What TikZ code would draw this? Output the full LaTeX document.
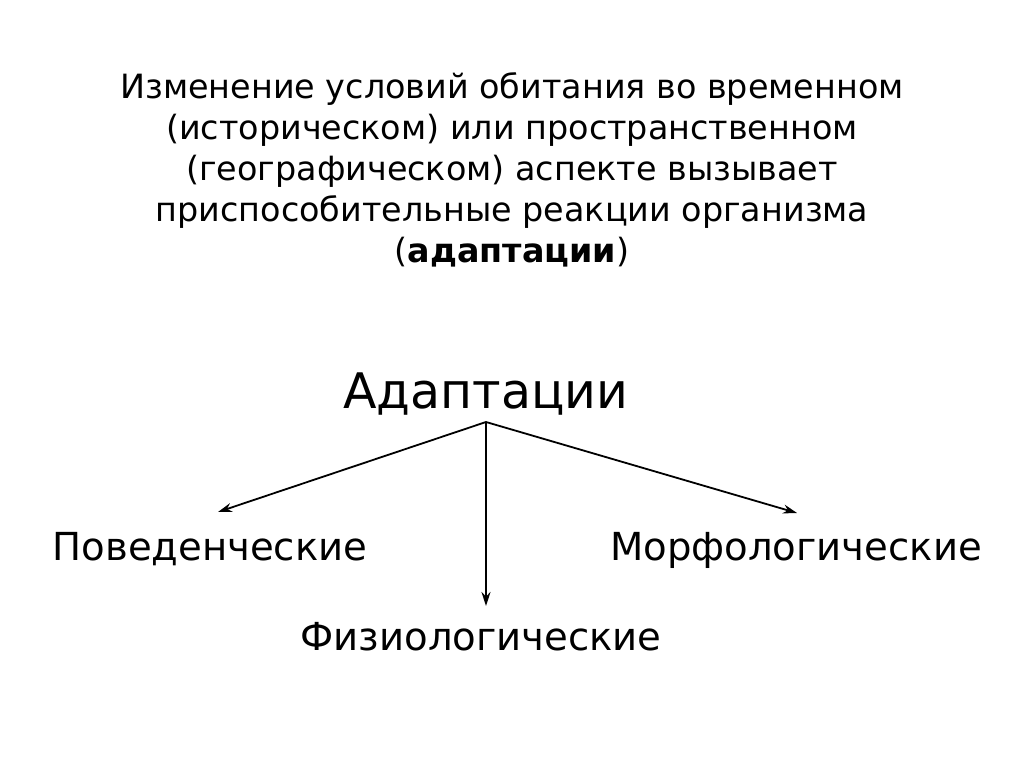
\documentclass[tikz,border=0pt]{standalone}
\usepackage{fontspec}
\setmainfont{DejaVu Sans}
\usetikzlibrary{arrows.meta, positioning}

\begin{document}
\begin{tikzpicture}[x=1pt, y=-1pt,
  lead/.style={font=\fontsize{33.4}{41}\selectfont, align=center, anchor=base, inner sep=0pt},
  kind/.style={font=\fontsize{38.6}{46}\selectfont, anchor=base, inner sep=0pt},
  branch/.style={-{Stealth[length=14pt, width=9pt]}, line width=1.8pt}]
  \useasboundingbox[fill=white] (0,0) rectangle (1024,767);
  % heading
  \node[lead] (intro) at (512,262) {Изменение условий обитания во временном\\
    (историческом) или пространственном\\
    (географическом) аспекте вызывает\\
    приспособительные реакции организма\\
    (\textbf{адаптации})};
  % tree
  \node[kind, font=\fontsize{49}{56}\selectfont] (adapt) at (486,408) {Адаптации};
  \node[kind] (beh) at (210,560) {Поведенческие};
  \node[kind] (morph) at (796,560) {Морфологические};
  \node[kind] (phys) at (481,650) {Физиологические};
  \coordinate (fork) at (486,422);
  \coordinate (behend) at (218,512);
  \coordinate (morphend) at (797,513);
  \coordinate (physend) at (486,606);
  \draw[branch] (fork) -- (behend);
  \draw[branch] (fork) -- (physend);
  \draw[branch] (fork) -- (morphend);
\end{tikzpicture}
\end{document}
